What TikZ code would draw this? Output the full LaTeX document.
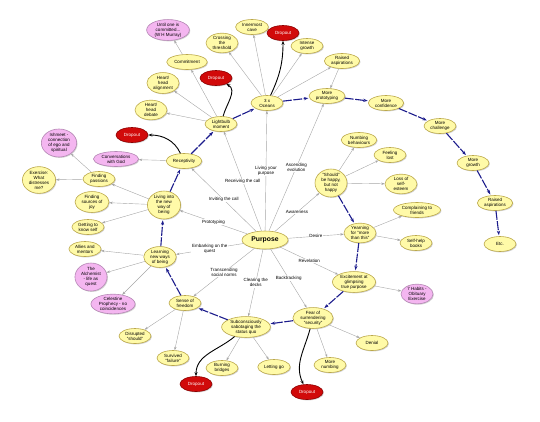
\documentclass[tikz,border=0pt]{standalone}
\usepackage{fontspec}
\setmainfont{Liberation Sans}
\usetikzlibrary{shapes.geometric,arrows.meta,shadows}
\definecolor{ideafill}{HTML}{FFFAA8}
\definecolor{ideaedge}{HTML}{BBA84A}
\definecolor{bookfill}{HTML}{F4B6F0}
\definecolor{bookedge}{HTML}{B487B4}
\definecolor{dropfill}{HTML}{D10A0A}
\definecolor{dropedge}{HTML}{8E0000}
\definecolor{journeyblue}{HTML}{1C1C8C}
\tikzset{
  idea/.style={ellipse, draw=ideaedge, fill=ideafill, line width=0.6pt, align=center,
    inner xsep=1.6pt, inner ysep=0.3pt, minimum width=32pt, minimum height=15pt,
    font=\fontsize{4.5}{5}\selectfont,
    drop shadow={shadow xshift=0.9pt, shadow yshift=-0.9pt, opacity=0.35}},
  book/.style={idea, draw=bookedge, fill=bookfill},
  dropnode/.style={idea, draw=dropedge, fill=dropfill, text=white, minimum width=32pt},
  hub/.style={idea, font=\fontsize{6.8}{7.2}\selectfont\bfseries, minimum width=46pt, minimum height=18pt},
  link/.style={draw=gray!70, line width=0.4pt, -{Stealth[length=3.5pt,width=2.4pt]}},
  journey/.style={draw=journeyblue, line width=1.1pt, dash pattern=on 9pt off 1.5pt,
    -{Stealth[length=4.5pt,width=3.2pt]}, shorten >=1pt},
  quit/.style={draw=black, line width=0.9pt, -{Stealth[length=4pt,width=3pt]}},
  lbl/.style={fill=white, inner sep=0.6pt, align=center, font=\fontsize{4.5}{5}\selectfont},
}
\begin{document}
\begin{tikzpicture}[x=1pt,y=-1pt]
\useasboundingbox (0,0) rectangle (540,421);
\node[hub] (purpose) at (265,240) {Purpose};
\node[idea] (bulb) at (221,124) {Lightbulb\\ moment};
\node[idea] (oceans) at (267,103) {3 x\\ Oceans};
\node[idea] (commit) at (187,62) {Commitment};
\node[book] (murray) at (168,30) {Until one is\\ committed...\\ (W H Murray)};
\node[idea] (threshold) at (222,43) {Crossing\\ the\\ threshold};
\node[idea] (cave) at (252,27) {Innermost\\ cave};
\node[dropnode] (dropA) at (283,33) {Dropout};
\node[idea] (intense) at (307,46) {Intense\\ growth};
\node[idea] (raisedA) at (342,61) {Raised\\ aspirations};
\node[idea] (moreproto) at (327,96) {More\\ prototyping};
\node[idea] (moreconf) at (386,103) {More\\ confidence};
\node[idea] (morechal) at (440,126) {More\\ challenge};
\node[idea] (moregrowth) at (473,163) {More\\ growth};
\node[idea] (raisedB) at (495,203) {Raised\\ aspirations};
\node[idea] (etc) at (500,244) {Etc.};
\node[idea] (hhalign) at (163,83) {Heart/\\ head\\ alignment};
\node[dropnode] (dropB) at (216,78) {Dropout};
\node[idea] (hhdebate) at (151,110) {Heart/\\ head\\ debate};
\node[dropnode] (dropC) at (132,135) {Dropout};
\node[idea] (recept) at (184,161) {Receptivity};
\node[book] (convgod) at (116,159) {Conversations\\ with God};
\node[book] (ishmeet) at (59,143) {Ishmeet -\\ connection\\ of ego and\\ spiritual};
\node[idea] (exercise) at (39,180) {Exercise:\\ What\\ distresses\\ me?};
\node[idea] (passions) at (99,179) {Finding\\ passions};
\node[idea] (joy) at (92,202) {Finding\\ sources of\\ joy};
\node[idea] (knowself) at (88,227) {Getting to\\ know self};
\node[idea] (living) at (164,205) {Living into\\ the new\\ way of\\ being};
\node[idea] (learning) at (160,257) {Learning\\ new ways\\ of being};
\node[idea] (allies) at (85,249) {Allies and\\ mentors};
\node[book] (alchemist) at (91,277) {The\\ Alchemist\\ - life as\\ quest};
\node[book] (celestine) at (113,304) {Celestine\\ Prophecy - no\\ coincidences};
\node[idea] (freedom) at (185,303) {Sense of\\ freedom};
\node[idea] (disrupted) at (135,336) {Disrupted\\ "should"};
\node[idea] (survived) at (173,358) {Survived\\ "failure"};
\node[idea] (sabotage) at (246,327) {Subconsciously\\ sabotaging the\\ status quo};
\node[dropnode] (dropD) at (196,384) {Dropout};
\node[idea] (burning) at (222,368) {Burning\\ bridges};
\node[idea] (lettinggo) at (274,367) {Letting go};
\node[idea] (fear) at (313,318) {Fear of\\ surrendering\\ "security"};
\node[dropnode] (dropE) at (307,392) {Dropout};
\node[idea] (numbing) at (330,365) {More\\ numbing};
\node[idea] (denial) at (372,343) {Denial};
\node[idea] (excite) at (354,282) {Excitement at\\ glimpsing\\ true purpose};
\node[book] (habits) at (417,294) {7 Habits -\\ Obituary\\ Exercise};
\node[idea] (yearning) at (360,233) {Yearning\\ for "more\\ than this"};
\node[idea] (complain) at (417,210) {Complaining to\\ friends};
\node[idea] (selfhelp) at (416,243) {Self-help\\ books};
\node[idea] (should) at (331,183) {"Should"\\ be happy,\\ but not\\ happy};
\node[idea] (numbbeh) at (359,140) {Numbing\\ behaviours};
\node[idea] (lost) at (390,155) {Feeling\\ lost};
\node[idea] (esteem) at (401,184) {Loss of\\ self-\\ esteem};
\draw[link] (purpose) -- node[lbl] {Living your\\ purpose} (oceans);
\draw[link] (purpose) -- node[lbl] {Ascending\\ evolution} (moreproto);
\draw[link] (purpose) -- node[lbl] {Receiving the call} (bulb);
\draw[link] (purpose) -- node[lbl] {Inviting the call} (recept);
\draw[link] (purpose) -- node[lbl] {Prototyping} (living);
\draw[link] (purpose) -- node[lbl] {Embarking on the\\ quest} (learning);
\draw[link] (purpose) -- node[lbl] {Transcending\\ social norms} (freedom);
\draw[link] (purpose) -- node[lbl] {Clearing the\\ decks} (sabotage);
\draw[link] (purpose) -- node[lbl] {Backtracking} (fear);
\draw[link] (purpose) -- node[lbl] {Revelation} (excite);
\draw[link] (purpose) -- node[lbl] {Desire} (yearning);
\draw[link] (purpose) -- node[lbl] {Awareness} (should);
\foreach \a/\b in {commit/murray, bulb/commit, bulb/hhalign, bulb/hhdebate,
    oceans/threshold, oceans/cave, oceans/intense, oceans/raisedA, raisedA/moreproto,
    recept/convgod, living/passions, living/joy, living/knowself,
    passions/ishmeet, passions/exercise, learning/allies, learning/alchemist,
    learning/celestine, freedom/disrupted, freedom/survived, sabotage/burning,
    sabotage/lettinggo, fear/numbing, fear/denial, excite/habits,
    yearning/complain, yearning/selfhelp, should/numbbeh, should/lost, should/esteem}
  \draw[link] (\a) -- (\b);
\foreach \a/\b in {fear/sabotage, sabotage/freedom, freedom/learning, learning/living,
    living/recept, recept/bulb, bulb/oceans, oceans/moreproto, moreproto/moreconf,
    moreconf/morechal, morechal/moregrowth, moregrowth/raisedB, raisedB/etc,
    should/yearning, yearning/excite, excite/fear}
  \draw[journey] (\a) -- (\b);
\draw[quit] (bulb) to[out=75,in=-30] (dropB);
\draw[quit] (oceans) to[out=65,in=-90] (dropA);
\draw[quit] (recept) to[out=115,in=0] (dropC);
\draw[quit] (sabotage) to[out=-140,in=90] (dropD);
\draw[quit] (fear) to[out=-105,in=115] (dropE);
\end{tikzpicture}
\end{document}
